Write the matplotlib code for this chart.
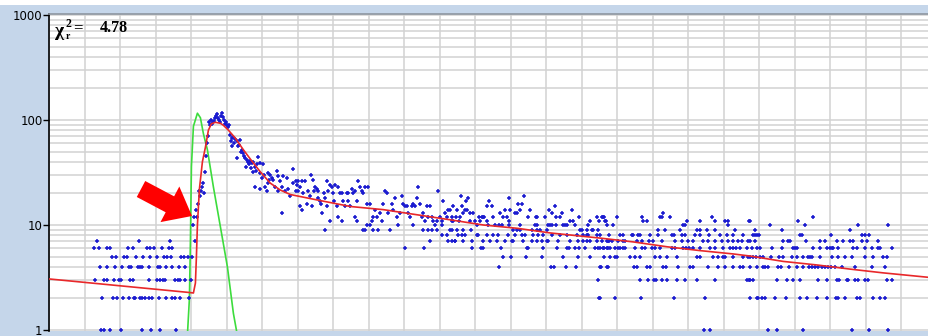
import matplotlib
matplotlib.use('Agg')
import matplotlib.pyplot as plt
from matplotlib.ticker import MultipleLocator, LogLocator, FixedLocator, NullFormatter
from matplotlib.patches import Rectangle

CH_NS = 0.02817  # channel width (ns)

# ---- measured histogram (channel, counts) ----
# background before the rise, one list of channels per count level
bg_c7 = [48, 90, 121]
bg_c6 = [45, 50, 58, 61, 79, 84, 98, 101, 105, 113, 120, 123]
bg_c5 = [63, 67, 75, 78, 87, 94, 101, 108, 115, 118, 122, 132, 135, 139]
bg_c4 = [51, 58, 66, 73, 80, 82, 89, 91, 93, 100, 109, 111, 117, 123, 130, 136]
bg_c3 = [46, 55, 58, 65, 70, 72, 81, 84, 100, 108, 111, 114, 116, 126, 129, 131, 136, 142]
bg_c2 = [53, 64, 68, 74, 80, 85, 86, 91, 93, 96, 100, 103, 110, 117, 123, 126, 131, 140]
bg_c1 = [52, 55, 61, 72, 93, 102, 111, 127]

# rise and peak
rise_ch = [143, 144, 145, 146, 147, 148, 149, 150, 151, 152, 153, 154, 155, 156, 157, 158]
rise_cnt = [5, 10, 12, 7, 14, 12, 16, 21, 19, 21, 23, 25, 20, 32, 45, 60]
peak_ch = [159, 160, 161, 162, 163, 164, 165, 166, 167, 168, 169, 170, 171, 172, 173,
           174, 175, 176, 177, 178, 179, 180]
peak_cnt = [70, 96, 90, 100, 92, 96, 98, 105, 110, 113, 105, 100, 96, 108, 116,
            107, 100, 92, 95, 89, 86, 90]

# early decay
dec_ch = [181, 182, 183, 183, 184, 185, 186, 188, 188, 189, 190, 191, 192, 193, 194, 195,
          196, 197, 198, 199, 200, 201, 202, 203, 204, 204, 206, 206, 207, 208, 209, 211,
          211, 211, 213, 214, 215, 216, 218, 219, 219, 220, 221, 223, 224, 226, 228, 229,
          229, 231, 233, 233, 234, 236, 238, 239, 241, 244, 244]
dec_cnt = [72, 63, 68, 56, 69, 60, 66, 63, 43, 56, 58, 65, 50, 52, 48, 45,
           43, 36, 42, 40, 38, 41, 35, 39, 40, 32, 36, 23, 33, 38, 44, 39,
           31, 22, 28, 38, 30, 23, 21, 31, 25, 27, 30, 28, 27, 23, 33, 29,
           21, 26, 23, 13, 29, 21, 28, 22, 19, 34, 25]

# middle of the tail
mid_ch = [247, 249, 253, 256, 248, 251, 247, 249, 254, 259, 262, 264, 266, 265, 268, 269,
          261, 258, 251, 253, 263, 269, 271, 272, 273, 275, 276, 278, 278, 281, 279, 283,
          284, 286, 289, 285, 288, 289, 291, 293, 294, 296, 298, 299, 299, 301, 303, 304,
          306, 308, 309, 311, 313, 314, 316, 318, 319, 321, 306, 308, 293, 314, 318, 321,
          323, 324, 326, 328, 331, 333, 334, 336, 338, 339, 343, 344, 346, 348, 349, 351,
          353, 354, 356, 358, 359, 361, 363, 364, 366, 368, 369, 371, 373, 374, 376, 378,
          379, 381, 383, 384, 386, 388, 389, 391, 393, 394, 396, 398, 399, 401, 403, 404,
          276, 281, 316, 324, 329, 341, 356, 364, 374, 375, 381, 388, 393, 398, 399, 403,
          406, 393, 379, 383]
mid_cnt = [26, 26, 26, 26, 24, 23, 21, 21, 20, 21, 30, 27, 23, 21, 22, 21,
           19, 16, 15, 14, 15, 18, 17, 16, 13, 20, 18, 15, 26, 24, 21, 23,
           20, 24, 23, 17, 15, 12, 20, 20, 17, 15, 20, 20, 17, 15, 22, 20,
           21, 17, 26, 23, 21, 20, 23, 16, 23, 16, 12, 11, 11, 9, 10, 10,
           11, 12, 14, 12, 13, 11, 16, 21, 20, 13, 16, 14, 18, 12, 10, 13,
           19, 16, 15, 15, 13, 12, 15, 16, 15, 18, 23, 16, 12, 13, 11, 15,
           12, 15, 12, 11, 10, 11, 21, 12, 11, 17, 13, 12, 14, 14, 12, 11,
           9, 11, 9, 9, 9, 9, 6, 10, 9, 6, 7, 9, 8, 8, 7, 9,
           7, 10, 9, 9]

# late tail, one list of channels per count level
tl_c19 = [412, 475]
tl_c18 = [419, 460]
tl_c17 = [417, 440]
tl_c16 = [469, 473]
tl_c15 = [404, 413, 438, 443, 506]
tl_c14 = [408, 416, 418, 456, 461, 471, 481, 500, 523]
tl_c13 = [414, 421, 424, 451, 466, 468, 503, 513, 614]
tl_c12 = [407, 411, 430, 433, 434, 435, 444, 454, 458, 479, 487, 488, 496, 507, 511, 530,
          548, 553, 554, 555, 568, 593, 611, 613, 621, 663, 764]
tl_c11 = [403, 410, 421, 426, 431, 438, 460, 521, 524, 541, 550, 556, 557, 594, 598, 638,
          651, 666, 676, 679, 700, 701, 749]
tl_c10 = [428, 439, 446, 450, 453, 460, 471, 486, 488, 499, 501, 503, 507, 514, 516, 518,
          526, 539, 558, 564, 634, 636, 679, 721, 756, 809, 839]
tl_c9 = [401, 408, 414, 422, 464, 468, 471, 483, 488, 491, 498, 531, 533, 538, 543, 544,
         549, 609, 616, 631, 648, 651, 658, 666, 686, 706, 733, 801]
tl_c8 = [409, 413, 416, 428, 429, 438, 444, 449, 459, 466, 473, 476, 484, 489, 494, 503,
         511, 518, 528, 534, 538, 539, 548, 551, 560, 571, 574, 583, 584, 589, 591, 601,
         609, 623, 625, 633, 636, 646, 651, 660, 671, 678, 684, 694, 704, 706, 708, 710,
         751, 753, 782, 813, 816, 820]
tl_c7 = [403, 406, 414, 423, 434, 441, 448, 456, 463, 464, 474, 483, 488, 493, 498, 499,
         509, 521, 529, 534, 538, 541, 548, 553, 558, 559, 560, 563, 569, 574, 576, 588,
         593, 600, 604, 613, 626, 633, 639, 644, 654, 659, 666, 673, 679, 684, 689, 693,
         699, 701, 706, 734, 739, 741, 757, 771, 776, 788, 794, 801, 804, 813, 818, 829]
tl_c6 = [423, 432, 434, 452, 478, 479, 494, 508, 518, 520, 526, 530, 536, 546, 549, 551,
         554, 555, 558, 559, 561, 566, 569, 571, 574, 576, 586, 593, 596, 603, 606, 611,
         623, 626, 634, 637, 640, 644, 651, 661, 666, 674, 681, 684, 687, 691, 698, 703,
         708, 711, 723, 733, 744, 746, 748, 764, 771, 778, 781, 783, 784, 789, 804, 808,
         816, 823, 829, 831, 843]
tl_c5 = [454, 462, 477, 493, 514, 529, 541, 555, 561, 566, 568, 581, 586, 591, 606, 611,
         618, 628, 648, 651, 664, 669, 674, 676, 684, 694, 699, 701, 704, 707, 711, 714,
         722, 730, 734, 743, 748, 754, 759, 761, 763, 771, 783, 789, 796, 803, 816, 824,
         834, 838]
tl_c4 = [450, 502, 505, 517, 527, 551, 552, 558, 559, 585, 588, 598, 601, 614, 617, 629,
         641, 644, 659, 669, 676, 684, 691, 694, 701, 708, 714, 716, 719, 729, 732, 740,
         748, 754, 760, 763, 766, 769, 773, 776, 779, 782, 786, 793, 806, 823, 836]
tl_c3 = [549, 591, 599, 605, 607, 613, 618, 628, 636, 648, 666, 698, 700, 701, 704, 728,
         738, 744, 751, 769, 778, 788, 790, 798, 799, 806, 809, 816, 819, 838, 843]
tl_c2 = [550, 551, 566, 592, 625, 656, 701, 708, 709, 713, 716, 726, 737, 751, 758, 768,
         778, 787, 789, 796, 808, 811, 824, 831, 836]
tl_c1 = [655, 661, 719, 728, 754, 803, 820, 839]

# ---- fitted curve and instrument response ----
fit_ch = [0, 141, 144, 146, 147, 148, 150, 153, 156, 159, 162, 166, 171, 174, 179, 186,
          194, 203, 211, 221, 231, 241, 259, 268, 301, 334, 368, 401, 434, 468, 501, 551,
          584, 618, 651, 684, 701, 734, 768, 801, 834, 880]
fit_val = [3.06, 2.27, 2.25, 2.8, 5, 10, 22, 40, 55, 80, 92, 95, 93, 89, 80, 67,
           52, 40, 32, 25, 21.5, 19.5, 18, 17.3, 15, 14, 12.5, 11.2, 10, 9.3, 8.4, 7.5,
           6.9, 6.2, 5.7, 5.3, 5.06, 4.5, 4.16, 3.8, 3.5, 3.17]
irf_ch = [138, 140, 141, 142, 144, 148, 151, 154, 158, 164, 171, 178, 184, 187, 189]
irf_val = [0.9, 2.0, 7.0, 36, 87, 116, 105, 74, 52, 23, 9.6, 4.0, 1.44, 1.0, 0.8]

chi2 = '4.78'

# assemble the histogram
rows = [(7, bg_c7), (6, bg_c6), (5, bg_c5), (4, bg_c4), (3, bg_c3), (2, bg_c2), (1, bg_c1),
        (19, tl_c19), (18, tl_c18), (17, tl_c17), (16, tl_c16), (15, tl_c15), (14, tl_c14),
        (13, tl_c13), (12, tl_c12), (11, tl_c11), (10, tl_c10), (9, tl_c9), (8, tl_c8),
        (7, tl_c7), (6, tl_c6), (5, tl_c5), (4, tl_c4), (3, tl_c3), (2, tl_c2), (1, tl_c1)]
chans = rise_ch + peak_ch + dec_ch + mid_ch
counts = rise_cnt + peak_cnt + dec_cnt + mid_cnt
for c, chs in rows:
    chans = chans + chs
    counts = counts + [c] * len(chs)
t = [c * CH_NS for c in chans]

W, H = 929, 336
fig = plt.figure(figsize=(W / 100, H / 100), dpi=100, facecolor='#c5d6ea')
fig.patches.append(Rectangle((0, 1 - 5 / H), 1, 5 / H, transform=fig.transFigure,
                             facecolor='white', edgecolor='none'))
ax = fig.add_axes([49.5 / W, 5 / H, 1 - 49.5 / W, (331 - 13.5) / H])
ax.set_facecolor('white')

ax.plot([c * CH_NS for c in irf_ch], irf_val, color='#3ddc3d', lw=1.2, zorder=2)
ax.plot(t, counts, ls='none', marker='+', ms=3.2, mew=1.1, color='#1a1ad0', zorder=3)
ax.plot([c * CH_NS for c in fit_ch], fit_val, color='#e8282a', lw=1.2, zorder=4)

ax.set_yscale('log')
ax.set_ylim(0.978, 1033)
ax.set_xlim(0, 880 * CH_NS)

ax.xaxis.set_major_locator(MultipleLocator(1))
ax.xaxis.set_major_formatter(NullFormatter())
ax.tick_params(axis='x', length=0)
ax.yaxis.set_major_locator(FixedLocator([1, 10, 100, 1000]))
ax.yaxis.set_minor_locator(LogLocator(base=10, subs=range(2, 10)))
ax.yaxis.set_minor_formatter(NullFormatter())
ax.set_yticklabels(['1', '10', '100', '1000'])
ax.tick_params(axis='y', which='major', length=4, width=1, pad=1, labelsize=8.5,
               color='black')
ax.tick_params(axis='y', which='minor', length=0)
ax.grid(True, which='both', color='#d2d2d2', lw=1.1, zorder=0)
ax.set_axisbelow(True)

for s in ['right', 'bottom']:
    ax.spines[s].set_visible(False)
ax.spines['left'].set_color('black')
ax.spines['left'].set_linewidth(1.2)
ax.spines['top'].set_color('#8d96a0')
ax.spines['top'].set_linewidth(1.2)

# chi-square label
fx = lambda x: x / W
fy = lambda y: 1 - y / H
fig.text(fx(55), fy(36), 'χ', family='Liberation Serif', weight='bold', fontsize=14)
fig.text(fx(66), fy(27), '2', family='Liberation Serif', weight='bold', fontsize=8.5)
fig.text(fx(66), fy(39), 'r', family='Liberation Serif', weight='bold', fontsize=7)
fig.text(fx(73), fy(32), '=', family='Liberation Serif', weight='bold', fontsize=12)
fig.text(fx(100), fy(32), chi2, family='Liberation Serif', weight='bold', fontsize=11.5)

# red pointer arrow
ax.annotate('', xy=(192, H - 216), xytext=(141, H - 189),
            xycoords='figure pixels', textcoords='figure pixels',
            arrowprops=dict(arrowstyle='simple,head_length=1.8,head_width=2.9,tail_width=1.3',
                            fc='#ff0000', ec='none', shrinkA=0, shrinkB=0,
                            mutation_scale=10))

fig.savefig('out.png', dpi=100, facecolor=fig.get_facecolor())
